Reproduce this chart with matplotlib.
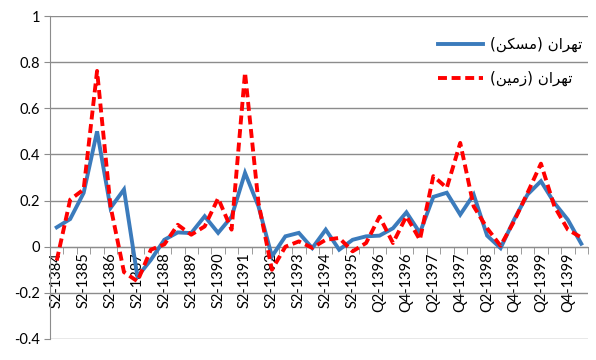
import matplotlib
matplotlib.use("Agg")
import matplotlib.pyplot as plt
from matplotlib.lines import Line2D

# ---------------- data ----------------
categories = [
    "S2-1384", "S1-1385", "S2-1385", "S1-1386", "S2-1386", "S1-1387", "S2-1387",
    "S1-1388", "S2-1388", "S1-1389", "S2-1389", "S1-1390", "S2-1390", "S1-1391",
    "S2-1391", "S1-1392", "S2-1392", "S1-1393", "S2-1393", "S1-1394", "S2-1394",
    "S1-1395", "S2-1395", "Q1-1396", "Q2-1396", "Q3-1396", "Q4-1396", "Q1-1397",
    "Q2-1397", "Q3-1397", "Q4-1397", "Q1-1398", "Q2-1398", "Q3-1398", "Q4-1398",
    "Q1-1399", "Q2-1399", "Q3-1399", "Q4-1399", "Q1-1400",
]
housing = [  # تهران (مسکن)
    0.084, 0.12, 0.233, 0.50, 0.168, 0.248, -0.13, -0.057, 0.03, 0.062,
    0.059, 0.132, 0.06, 0.13, 0.32, 0.175, -0.042, 0.045, 0.06, -0.006,
    0.074, -0.013, 0.03, 0.045, 0.048, 0.08, 0.149, 0.06, 0.216, 0.234,
    0.139, 0.226, 0.048, -0.006, 0.117, 0.226, 0.284, 0.19, 0.117, 0.013,
]
land = [  # تهران (زمین)
    -0.06, 0.204, 0.248, 0.762, 0.175, -0.11, -0.15, -0.013, 0.01, 0.095,
    0.052, 0.088, 0.21, 0.074, 0.755, 0.19, -0.10, 0.0, 0.023, -0.005,
    0.03, 0.038, -0.02, 0.016, 0.13, 0.016, 0.132, 0.03, 0.306, 0.255,
    0.45, 0.175, 0.08, 0.004, 0.11, 0.233, 0.36, 0.175, 0.074, 0.04,
]
series_names = ["تهران (مسکن)", "تهران (زمین)"]
yticks = [-0.4, -0.2, 0, 0.2, 0.4, 0.6, 0.8, 1]
ytick_labels = ["-0.4", "-0.2", "0", "0.2", "0.4", "0.6", "0.8", "1"]

# ------------- simple Arabic/Persian shaping for matplotlib -------------
FORMS = {  # isolated, final, initial, medial
    'ت': ('\uFE95', '\uFE96', '\uFE97', '\uFE98'),
    'ه': ('\uFEE9', '\uFEEA', '\uFEEB', '\uFEEC'),
    'ر': ('\uFEAD', '\uFEAE', None, None),
    'ز': ('\uFEAF', '\uFEB0', None, None),
    'ا': ('\uFE8D', '\uFE8E', None, None),
    'ن': ('\uFEE5', '\uFEE6', '\uFEE7', '\uFEE8'),
    'م': ('\uFEE1', '\uFEE2', '\uFEE3', '\uFEE4'),
    'س': ('\uFEB1', '\uFEB2', '\uFEB3', '\uFEB4'),
    'ک': ('\uFB8E', '\uFB8F', '\uFB90', '\uFB91'),
    'ی': ('\uFBFC', '\uFBFD', '\uFBFE', '\uFBFF'),
}


def shape(s):
    out = []
    for i, c in enumerate(s):
        if c not in FORMS:
            out.append(c)
            continue
        prev = s[i - 1] if i > 0 else None
        nxt = s[i + 1] if i + 1 < len(s) else None
        jp = prev in FORMS and FORMS[prev][2] is not None
        jn = nxt in FORMS and FORMS[c][2] is not None
        f = FORMS[c]
        if jp and jn:
            g = f[3]
        elif jp:
            g = f[1]
        elif jn:
            g = f[2]
        else:
            g = f[0]
        out.append(g)
    vis = ''.join(reversed(out))
    return vis.translate(str.maketrans('()', ')('))


# ---------------- plot ----------------
plt.rcParams['font.family'] = ['Lato', 'DejaVu Sans']
fig = plt.figure(figsize=(5.96, 3.60), dpi=100)
ax = fig.add_axes([50 / 596, 1 - 339 / 360, 538 / 596, 323 / 360])

x = list(range(len(categories)))
blue = '#3B7BBC'
red = '#FF0000'
ax.plot(x, housing, color=blue, lw=2.8, solid_joinstyle='miter', zorder=3)
ax.plot(x, land, color=red, lw=2.8, linestyle=(0, (2.3, 1.2)),
        dash_capstyle='butt', zorder=4)

ax.set_xlim(-0.5, len(categories) - 0.5)
ax.set_ylim(-0.4, 1.0)
ax.set_yticks(yticks)
ax.set_yticklabels(ytick_labels, fontsize=10.5)
ax.yaxis.grid(True, color='#8C8C8C', lw=1)
ax.set_axisbelow(True)

for s in ['top', 'right']:
    ax.spines[s].set_visible(False)
ax.spines['left'].set_color('#8C8C8C')
ax.spines['bottom'].set_color('#8C8C8C')
ax.spines['bottom'].set_position(('data', 0))
ax.tick_params(axis='y', length=4, color='#8C8C8C', pad=3)

ax.set_xticks(x[::2])
ax.set_xticklabels(categories[::2], rotation=90, fontsize=10.5, va='top', ha='center')
ax.set_xticks([i - 0.5 for i in range(len(categories) + 1)], minor=True)
ax.tick_params(axis='x', which='major', length=0, pad=4)
ax.tick_params(axis='x', which='minor', length=5, color='#8C8C8C', direction='out')

handles = [
    Line2D([], [], color=blue, lw=2.8),
    Line2D([], [], color=red, lw=2.8, linestyle=(0, (2.3, 1.2)), dash_capstyle='butt'),
]
leg = ax.legend(handles, [shape(n) for n in series_names], loc='upper left',
                bbox_to_anchor=(438 / 596, 1 - 37 / 360), bbox_transform=fig.transFigure,
                frameon=False, borderpad=0, borderaxespad=0, handlelength=3.0,
                handletextpad=0.45, labelspacing=1.25,
                prop={'family': 'DejaVu Sans', 'size': 10.8})

fig.savefig('out.png', dpi=100)
